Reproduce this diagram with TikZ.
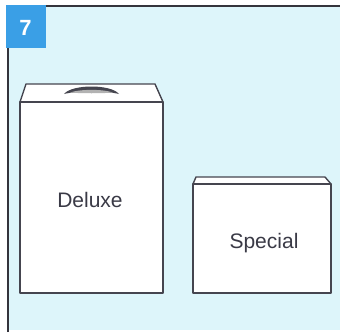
\documentclass[tikz,border=0pt]{standalone}
\usepackage{fontspec}
\setmainfont{Liberation Sans}
\definecolor{bgcyan}{HTML}{DDF5FA}
\definecolor{badge}{HTML}{3A9FE6}
\definecolor{frameline}{HTML}{34343C}
\definecolor{boxline}{HTML}{45454F}
\definecolor{txt}{HTML}{3A3A46}
\begin{document}
\begin{tikzpicture}[x=1pt,y=-1pt,
  boxface/.style={fill=white,draw=boxline,line width=1.4pt,line join=round},
  label/.style={text=txt,font=\fontsize{21}{25}\selectfont,inner sep=0pt}]
\useasboundingbox (0,0) rectangle (340,332);
\fill[white] (0,0) rectangle (340,332);
% panel background
\fill[bgcyan] (8,6) rectangle (340,330);
% frame lines
\draw[frameline,line width=2pt] (8,332) -- (8,6) -- (340,6);
% badge
\fill[badge] (6,5) rectangle (46,48);
\node[text=white,font=\bfseries\fontsize{22}{24}\selectfont] (num) at (25.5,28) {7};
% Deluxe box
\draw[boxface] (20,102) -- (26,84) -- (155,84) -- (163,102) -- cycle;
\draw[boxface] (20,102) rectangle (163,293);
% handle
\fill[boxline] (64,94) .. controls (72,84) and (111,84) .. (119,94) .. controls (108,91) and (75,91) .. cycle;
\fill[gray!60] (70,92.5) .. controls (80,89) and (103,89) .. (113,92.5) .. controls (103,93.5) and (80,93.5) .. cycle;
\node[label] (deluxe) at (90,200) {Deluxe};
% Special box
\draw[boxface] (193,184) -- (196,177) -- (325,177) -- (331,184) -- cycle;
\draw[boxface] (193,184) rectangle (331,293);
\node[label] (special) at (264,243) {Special};
\end{tikzpicture}
\end{document}
